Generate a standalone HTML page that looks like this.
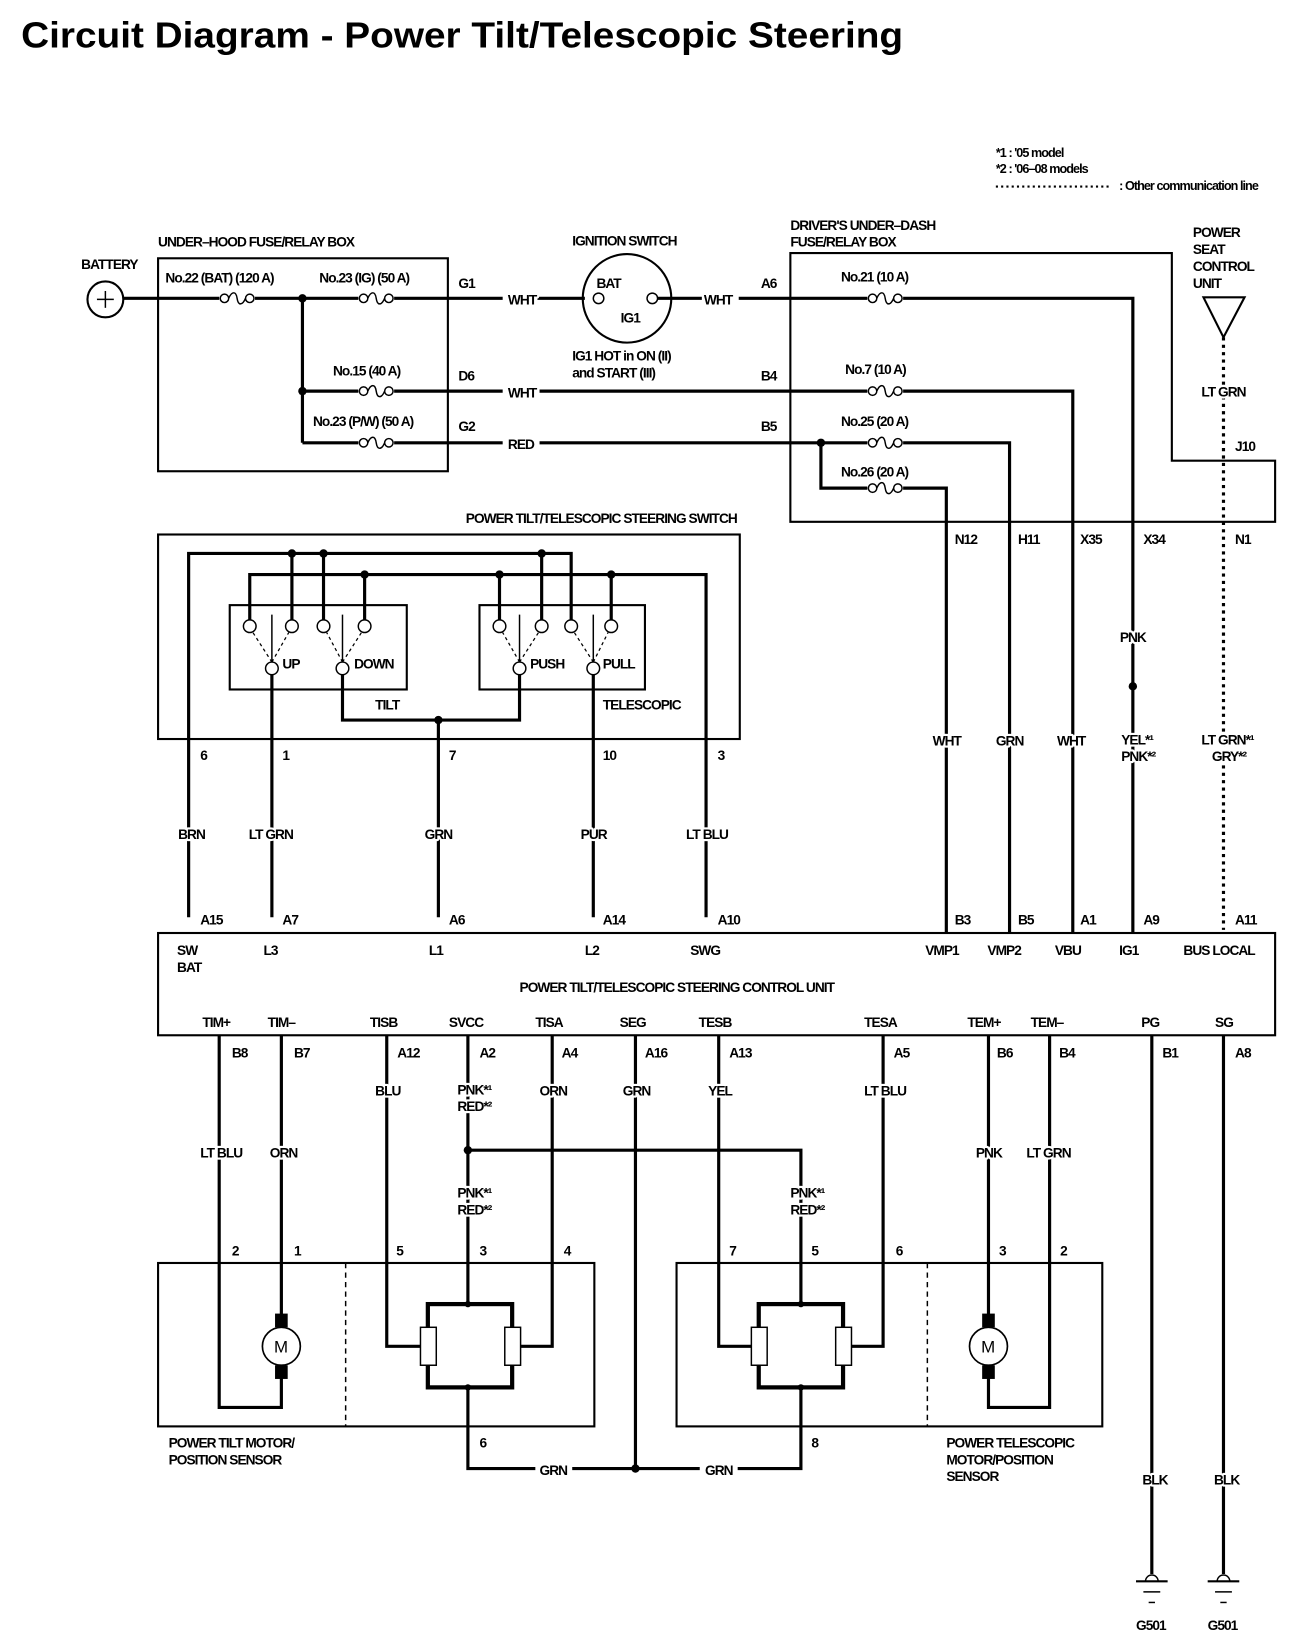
<!DOCTYPE html>
<html><head><meta charset="utf-8"><style>
html,body{margin:0;padding:0;background:#fff;}
svg{display:block;}
text{font-family:"Liberation Sans",sans-serif;font-weight:bold;font-size:13px;letter-spacing:-0.9px;fill:#000;paint-order:stroke;stroke:#fff;stroke-width:4px;stroke-linejoin:round;}
.w{stroke:#000;stroke-width:3;fill:none;}
.t{stroke:#000;stroke-width:2;fill:none;}
.th{stroke:#000;stroke-width:1.4;fill:none;}
</style></head><body>
<svg width="1312" height="1652" viewBox="0 0 1245 1567" preserveAspectRatio="none" xmlns="http://www.w3.org/2000/svg">
<defs>
<g id="fuse"><rect x="-17" y="-6" width="34" height="12" fill="#fff"/><circle cx="-12" cy="0" r="4" fill="#fff" stroke="#000" stroke-width="1.4"/><circle cx="12" cy="0" r="4" fill="#fff" stroke="#000" stroke-width="1.4"/><path d="M-8,0 C-5,-7 -1,-7 0,0 C1,7 5,7 8,0" fill="none" stroke="#000" stroke-width="1.4"/></g>
<g id="motor"><rect x="-6" y="-31" width="12" height="13" fill="#000"/><rect x="-6" y="18" width="12" height="13" fill="#000"/><circle cx="0" cy="0" r="18" fill="#fff" stroke="#000" stroke-width="1.6"/><text x="-7" y="6" style="font-size:16px;font-weight:normal">M</text></g>
<g id="gnd"><path d="M-6,0 A6,6 0 0 1 6,0" fill="#fff" stroke="#000" stroke-width="1.4"/><line x1="-15" y1="0" x2="15" y2="0" stroke="#000" stroke-width="2"/><line x1="-8" y1="10" x2="8" y2="10" stroke="#000" stroke-width="1.4"/><line x1="-3" y1="20" x2="3" y2="20" stroke="#000" stroke-width="1.4"/></g>
</defs>

<text x="20" y="45" textLength="837" lengthAdjust="spacingAndGlyphs" style="font-size:34px;letter-spacing:0">Circuit Diagram - Power Tilt/Telescopic Steering</text>

<text x="945" y="149" style="font-size:12px">*1 : '05 model</text>
<text x="945" y="164" style="font-size:12px">*2 : '06–08 models</text>
<line x1="945" y1="177" x2="1055" y2="177" stroke="#000" stroke-width="2" stroke-dasharray="2,3"/>
<text x="1062" y="180" style="font-size:12px">: Other communication line</text>

<!-- battery -->
<text x="77" y="255">BATTERY</text>
<circle cx="100" cy="284" r="17" class="t"/>
<line x1="92" y1="284" x2="108" y2="284" class="th"/><line x1="100" y1="276" x2="100" y2="292" class="th"/>

<!-- under hood box -->
<text x="150" y="234">UNDER–HOOD FUSE/RELAY BOX</text>
<rect x="150" y="245" width="275" height="202" class="t"/>
<path d="M117,283 H477 M510,283 H555" class="w"/>
<path d="M287,283 V420 M287,371 H477 M512,371 H1018 V885 M287,420 H477 M512,420 H958 V885 M779,420 V463 H898 V885" class="w"/>
<circle cx="287" cy="283" r="4"/><circle cx="287" cy="371" r="4"/><circle cx="779" cy="420" r="4"/>
<use href="#fuse" x="225" y="283"/><use href="#fuse" x="357" y="283"/><use href="#fuse" x="357" y="371"/><use href="#fuse" x="357" y="420"/>
<text x="157" y="268">No.22 (BAT) (120 A)</text>
<text x="303" y="268">No.23 (IG) (50 A)</text>
<text x="316" y="356">No.15 (40 A)</text>
<text x="297" y="404">No.23 (P/W) (50 A)</text>
<text x="435" y="273">G1</text><text x="435" y="361">D6</text><text x="435" y="409">G2</text>
<text x="482" y="289">WHT</text><text x="482" y="377">WHT</text><text x="482" y="426">RED</text>

<!-- ignition -->
<text x="543" y="233">IGNITION SWITCH</text>
<circle cx="595" cy="283" r="42" class="t"/>
<circle cx="568" cy="283" r="5" fill="#fff" class="th"/><circle cx="619" cy="283" r="5" fill="#fff" class="th"/>
<text x="566" y="273">BAT</text><text x="589" y="306">IG1</text>
<text x="543" y="342">IG1 HOT in ON (II)</text><text x="543" y="358">and START (III)</text>
<path d="M624,283 H666 M701,283 H1075 V885" class="w"/>
<text x="668" y="289">WHT</text>
<text x="722" y="273">A6</text><text x="722" y="361">B4</text><text x="722" y="409">B5</text>

<!-- driver's box -->
<text x="750" y="218">DRIVER'S UNDER–DASH</text><text x="750" y="234">FUSE/RELAY BOX</text>
<path d="M750,240 H1112 V437 H1210 V495 H750 Z" class="t"/>
<use href="#fuse" x="840" y="283"/><use href="#fuse" x="840" y="371"/><use href="#fuse" x="840" y="420"/><use href="#fuse" x="840" y="463"/>
<text x="798" y="267">No.21 (10 A)</text><text x="802" y="355">No.7 (10 A)</text><text x="798" y="404">No.25 (20 A)</text><text x="798" y="452">No.26 (20 A)</text>
<text x="906" y="516">N12</text><text x="966" y="516">H11</text><text x="1025" y="516">X35</text><text x="1085" y="516">X34</text><text x="1172" y="516">N1</text>

<!-- power seat -->
<text x="1132" y="225">POWER</text><text x="1132" y="241">SEAT</text><text x="1132" y="257">CONTROL</text><text x="1132" y="273">UNIT</text>
<path d="M1142,282 H1181 L1161,320 Z" class="t"/>
<line x1="1161" y1="320" x2="1161" y2="882" stroke="#000" stroke-width="3" stroke-dasharray="3,4"/>
<text x="1140" y="376">LT GRN</text><text x="1172" y="428">J10</text>
<text x="1140" y="706">LT GRN*¹</text><text x="1150" y="722">GRY*²</text>
<text x="1075" y="609" text-anchor="middle">PNK</text>
<circle cx="1075" cy="651" r="4"/>
<text x="1064" y="706">YEL*¹</text><text x="1064" y="722">PNK*²</text>
<text x="885" y="707">WHT</text><text x="945" y="707">GRN</text><text x="1003" y="707">WHT</text>

<!-- switch -->
<text x="442" y="496">POWER TILT/TELESCOPIC STEERING SWITCH</text>
<rect x="150" y="507" width="552" height="194" class="t"/>
<rect x="218" y="574" width="168" height="80" class="t"/>
<rect x="455" y="574" width="157" height="80" class="t"/>
<path d="M179,870 V525 H542 V588" class="w"/>
<path d="M237,588 V545 H670 V870" class="w"/>
<path d="M277,525 V588 M307,525 V588 M514,525 V588 M346,545 V588 M474,545 V588 M580,545 V588" class="w"/>
<circle cx="277" cy="525" r="4"/><circle cx="307" cy="525" r="4"/><circle cx="514" cy="525" r="4"/>
<circle cx="346" cy="545" r="4"/><circle cx="474" cy="545" r="4"/><circle cx="580" cy="545" r="4"/>
<g fill="#fff" stroke="#000" stroke-width="1.4">
<circle cx="237" cy="594" r="6"/><circle cx="277" cy="594" r="6"/><circle cx="307" cy="594" r="6"/><circle cx="346" cy="594" r="6"/>
<circle cx="474" cy="594" r="6"/><circle cx="514" cy="594" r="6"/><circle cx="542" cy="594" r="6"/><circle cx="580" cy="594" r="6"/>
</g>
<g stroke="#000" stroke-width="1.2" stroke-dasharray="3,3">
<path d="M258,628 L240,600 M258,628 L274,600 M325,628 L310,600 M325,628 L343,600 M493,628 L477,600 M493,628 L511,600 M563,628 L545,600 M563,628 L577,600"/>
</g>
<path d="M258,628 V583 M325,628 V583 M493,628 V583 M563,628 V583" class="th"/>
<path d="M258,639 V870 M325,639 V683 H493 V639 M416,683 V870 M563,639 V870" class="w"/>
<circle cx="416" cy="683" r="4"/>
<g fill="#fff" stroke="#000" stroke-width="1.4">
<circle cx="258" cy="634" r="6"/><circle cx="325" cy="634" r="6"/><circle cx="493" cy="634" r="6"/><circle cx="563" cy="634" r="6"/>
</g>
<text x="268" y="634">UP</text><text x="336" y="634">DOWN</text><text x="503" y="634">PUSH</text><text x="572" y="634">PULL</text>
<text x="356" y="673">TILT</text><text x="572" y="673">TELESCOPIC</text>
<text x="190" y="721">6</text><text x="268" y="721">1</text><text x="426" y="721">7</text><text x="572" y="721">10</text><text x="681" y="721">3</text>
<text x="169" y="796">BRN</text><text x="236" y="796">LT GRN</text><text x="403" y="796">GRN</text><text x="551" y="796">PUR</text><text x="651" y="796">LT BLU</text>
<text x="190" y="877">A15</text><text x="268" y="877">A7</text><text x="426" y="877">A6</text><text x="572" y="877">A14</text><text x="681" y="877">A10</text>
<text x="906" y="877">B3</text><text x="966" y="877">B5</text><text x="1025" y="877">A1</text><text x="1085" y="877">A9</text><text x="1172" y="877">A11</text>

<!-- control unit -->
<rect x="150" y="885" width="1060" height="97" class="t"/>
<text x="168" y="906">SW</text><text x="168" y="922">BAT</text><text x="250" y="906">L3</text><text x="407" y="906">L1</text><text x="555" y="906">L2</text><text x="655" y="906">SWG</text>
<text x="878" y="906">VMP1</text><text x="937" y="906">VMP2</text><text x="1001" y="906">VBU</text><text x="1062" y="906">IG1</text><text x="1123" y="906">BUS LOCAL</text>
<text x="493" y="941">POWER TILT/TELESCOPIC STEERING CONTROL UNIT</text>
<text x="192" y="974">TIM+</text><text x="254" y="974">TIM–</text><text x="351" y="974">TISB</text><text x="426" y="974">SVCC</text><text x="508" y="974">TISA</text><text x="588" y="974">SEG</text><text x="663" y="974">TESB</text><text x="820" y="974">TESA</text><text x="918" y="974">TEM+</text><text x="978" y="974">TEM–</text><text x="1083" y="974">PG</text><text x="1153" y="974">SG</text>
<text x="220" y="1003">B8</text><text x="279" y="1003">B7</text><text x="377" y="1003">A12</text><text x="455" y="1003">A2</text><text x="533" y="1003">A4</text><text x="612" y="1003">A16</text><text x="692" y="1003">A13</text><text x="848" y="1003">A5</text><text x="946" y="1003">B6</text><text x="1005" y="1003">B4</text><text x="1103" y="1003">B1</text><text x="1172" y="1003">A8</text>

<!-- lower wires -->
<path d="M208,982 V1335 H267 V1300 M267,982 V1255" class="w"/>
<path d="M367,982 V1277 H399 M524,982 V1277 H493 M444,982 V1237 M444,1091 H760 V1237" class="w"/>
<path d="M682,982 V1277 H713 M838,982 V1277 H807" class="w"/>
<path d="M938,982 V1255 M996,982 V1335 H938 V1300" class="w"/>
<path d="M603,982 V1393 M444,1316 V1393 H508 M543,1393 H664 M700,1393 H760 V1316" class="w"/>
<path d="M1093,982 V1493 M1161,982 V1493" class="w"/>
<circle cx="444" cy="1091" r="4"/><circle cx="603" cy="1393" r="4"/>
<text x="356" y="1039">BLU</text><text x="434" y="1038">PNK*¹</text><text x="434" y="1054">RED*²</text><text x="512" y="1039">ORN</text><text x="591" y="1039">GRN</text><text x="672" y="1039">YEL</text><text x="820" y="1039">LT BLU</text>
<text x="190" y="1098">LT BLU</text><text x="256" y="1098">ORN</text><text x="926" y="1098">PNK</text><text x="974" y="1098">LT GRN</text>
<text x="434" y="1136">PNK*¹</text><text x="434" y="1152">RED*²</text><text x="750" y="1136">PNK*¹</text><text x="750" y="1152">RED*²</text>
<text x="220" y="1191">2</text><text x="279" y="1191">1</text><text x="376" y="1191">5</text><text x="455" y="1191">3</text><text x="535" y="1191">4</text>
<text x="692" y="1191">7</text><text x="770" y="1191">5</text><text x="850" y="1191">6</text><text x="948" y="1191">3</text><text x="1006" y="1191">2</text>

<!-- component boxes -->
<rect x="150" y="1198" width="414" height="155" class="t"/>
<line x1="328" y1="1198" x2="328" y2="1353" stroke="#000" stroke-width="1.4" stroke-dasharray="5,4"/>
<rect x="642" y="1198" width="404" height="155" class="t"/>
<line x1="880" y1="1198" x2="880" y2="1353" stroke="#000" stroke-width="1.4" stroke-dasharray="5,4"/>
<use href="#motor" x="267" y="1277"/><use href="#motor" x="938" y="1277"/>
<rect x="406" y="1237" width="80" height="79" stroke="#000" stroke-width="4" fill="none"/>
<rect x="720" y="1237" width="80" height="79" stroke="#000" stroke-width="4" fill="none"/>
<g fill="#fff" stroke="#000" stroke-width="1.4">
<rect x="399" y="1259" width="15" height="36"/><rect x="479" y="1259" width="15" height="36"/>
<rect x="713" y="1259" width="15" height="36"/><rect x="793" y="1259" width="15" height="36"/>
</g>
<circle cx="444" cy="1237" r="3"/><circle cx="444" cy="1316" r="3"/><circle cx="760" cy="1237" r="3"/><circle cx="760" cy="1316" r="3"/>
<text x="160" y="1373">POWER TILT MOTOR/</text><text x="160" y="1389">POSITION SENSOR</text>
<text x="455" y="1373">6</text><text x="770" y="1373">8</text>
<text x="512" y="1399">GRN</text><text x="669" y="1399">GRN</text>
<text x="898" y="1373">POWER TELESCOPIC</text><text x="898" y="1389">MOTOR/POSITION</text><text x="898" y="1405">SENSOR</text>
<text x="1084" y="1408">BLK</text><text x="1152" y="1408">BLK</text>
<use href="#gnd" x="1093" y="1500"/><use href="#gnd" x="1161" y="1500"/>
<text x="1078" y="1546">G501</text><text x="1146" y="1546">G501</text>
</svg>
</body></html>
